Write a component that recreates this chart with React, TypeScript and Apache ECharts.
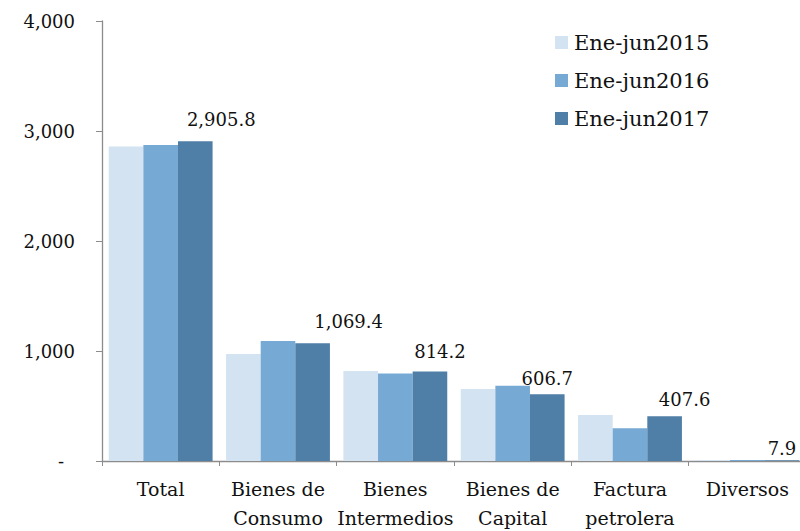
import React, { useEffect, useRef } from "react";
import * as echarts from "echarts";

const categories = [
  "Total",
  "Bienes de\nConsumo",
  "Bienes\nIntermedios",
  "Bienes de\nCapital",
  "Factura\npetrolera",
  "Diversos",
];
const seriesNames = ["Ene-jun2015", "Ene-jun2016", "Ene-jun2017"];
const values2015 = [2860, 973, 818, 655, 418, 8];
const values2016 = [2873, 1090, 795, 685, 297, 10];
const values2017 = [2905.8, 1069.4, 814.2, 606.7, 407.6, 7.9];
const yTicks = [0, 1000, 2000, 3000, 4000];
const titleText = "(Millones de US dólares)";

// label placement tweaks (layout, not data)
const labelShift: [number, number][] = [
  [26, -7],
  [36, -7],
  [10, -5],
  [0, -1],
  [20, -2],
  [0, 3],
];

const colors = ["#D3E3F1", "#76A9D3", "#4F7EA6"];
const FONT = "DejaVu Serif, Liberation Serif, serif";

function fmt(v: number): string {
  return v.toLocaleString("en-US", { minimumFractionDigits: 1, maximumFractionDigits: 1 });
}

export default function App() {
  const ref = useRef<HTMLDivElement>(null);
  useEffect(() => {
    if (!ref.current) return;
    const chart = echarts.init(ref.current, undefined, { renderer: "svg" });
    const allSeries = [values2015, values2016, values2017];
    chart.setOption({
      animation: false,
      backgroundColor: "#ffffff",
      textStyle: { fontFamily: FONT },
      graphic: [
        {
          type: "text",
          left: 18,
          top: -18,
          style: { text: titleText, fontSize: 17, fontFamily: FONT, fill: "#222" },
        },
      ],
      legend: {
        data: seriesNames,
        orient: "vertical",
        left: 550,
        top: 27,
        itemWidth: 13,
        itemHeight: 13,
        itemGap: 17,
        icon: "rect",
        textStyle: { fontSize: 21, fontFamily: FONT, color: "#111", padding: [0, 0, 0, 1] },
      },
      grid: {
        left: 102,
        top: 21,
        right: -6,
        bottom: 70,
        containLabel: false,
        outerBoundsMode: "none",
      },
      xAxis: {
        type: "category",
        data: categories,
        axisLine: { lineStyle: { color: "#8c8c8c", width: 1.3 } },
        axisTick: { show: true, length: 5, inside: false, lineStyle: { color: "#8c8c8c" } },
        axisLabel: {
          fontSize: 19,
          fontFamily: FONT,
          color: "#111",
          margin: 13,
          lineHeight: 29,
          interval: 0,
        },
      },
      yAxis: {
        type: "value",
        min: yTicks[0],
        max: yTicks[yTicks.length - 1],
        interval: 1000,
        splitLine: { show: false },
        axisLine: { show: true, lineStyle: { color: "#8c8c8c", width: 1.3 } },
        axisTick: { show: true, length: 6, lineStyle: { color: "#8c8c8c" } },
        axisLabel: {
          fontSize: 18,
          fontFamily: FONT,
          color: "#111",
          margin: 27,
          formatter: (v: number) =>
            v === 0 ? "{d|-}" : v.toLocaleString("en-US"),
          rich: { d: { fontSize: 18, fontFamily: FONT, color: "#111", padding: [0, 11, 0, 0] } },
        },
      },
      series: allSeries.map((vals, si) => ({
        name: seriesNames[si],
        type: "bar",
        barGap: "0%",
        barCategoryGap: "11.5%",
        itemStyle: { color: colors[si] },
        data: vals.map((v, i) =>
          si === 2
            ? {
                value: v,
                label: {
                  show: true,
                  position: "top",
                  distance: 6,
                  offset: labelShift[i],
                  fontSize: 18,
                  fontFamily: FONT,
                  color: "#111",
                  formatter: () => fmt(v),
                },
              }
            : v
        ),
      })),
    });
    return () => chart.dispose();
  }, []);
  return (
    <div
      ref={ref}
      style={{ position: "fixed", left: 0, top: 0, width: 800, height: 531 }}
    />
  );
}
